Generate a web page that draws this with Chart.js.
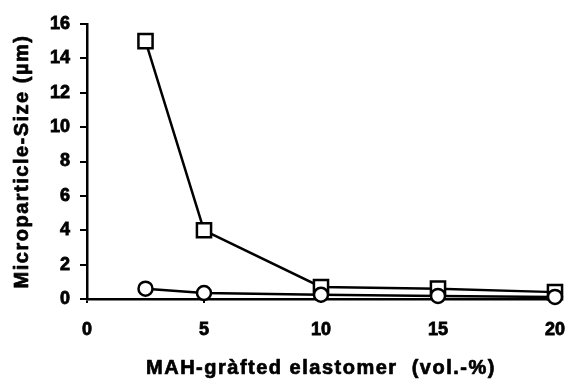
<!DOCTYPE html>
<html>
<head>
<meta charset="utf-8">
<script src="https://cdn.jsdelivr.net/npm/chart.js@4/dist/chart.umd.min.js"></script>
<style>
html,body{margin:0;padding:0;background:#fff;}
#wrap{width:581px;height:383px;position:relative;}
</style>
</head>
<body>
<div id="wrap"><canvas id="c" width="581" height="383"></canvas></div>
<script>
const xValues = [2.5, 5, 10, 15, 20];
const squareSizes = [15, 4, 0.7, 0.6, 0.4];
const circleSizes = [0.6, 0.35, 0.25, 0.18, 0.12];
const xTicks = [0, 5, 10, 15, 20];
const yTicks = [0, 2, 4, 6, 8, 10, 12, 14, 16];
const xTitle = 'MAH-gràfted elastomer  (vol.-%)';
const yTitle = 'Microparticle-Size (µm)';

const FONT = "'Liberation Sans', Arial, Helvetica, sans-serif";

function toPoints(ys){ return xValues.map((x,i)=>({x:x, y:ys[i]})); }

const spacingPlugin = {
  id: 'titleSpacing',
  beforeDraw(chart){
    ['x','y'].forEach(id=>{
      const s = chart.scales[id];
      if (!s._wrapped){
        const orig = s.drawTitle;
        s.drawTitle = function(){
          const ctx = this.ctx;
          ctx.save();
          ctx.letterSpacing = '1.5px';
          ctx.lineWidth = 0.7;
          ctx.strokeStyle = '#000';
          ctx.lineJoin = 'round';
          ctx.fillText = function(t, x, y, m){
            if (m === undefined) {
              CanvasRenderingContext2D.prototype.strokeText.call(this, t, x, y);
              CanvasRenderingContext2D.prototype.fillText.call(this, t, x, y);
            } else {
              CanvasRenderingContext2D.prototype.strokeText.call(this, t, x, y, m);
              CanvasRenderingContext2D.prototype.fillText.call(this, t, x, y, m);
            }
          };
          orig.apply(this, arguments);
          delete ctx.fillText;
          ctx.restore();
        };
        s._wrapped = true;
      }
    });
  }
};

new Chart(document.getElementById('c'), {
  type: 'line',
  data: {
    datasets: [
      {
        data: toPoints(circleSizes),
        borderColor: '#000',
        borderWidth: 2.5,
        pointStyle: 'circle',
        pointRadius: 7,
        pointBorderWidth: 2.5,
        pointBackgroundColor: '#fff',
        pointBorderColor: '#000',
        tension: 0,
        clip: false
      },
      {
        data: toPoints(squareSizes),
        borderColor: '#000',
        borderWidth: 2.5,
        pointStyle: 'rect',
        pointRadius: 10,
        pointBorderWidth: 2.5,
        pointBackgroundColor: '#fff',
        pointBorderColor: '#000',
        tension: 0,
        clip: false
      }
    ]
  },
  options: {
    responsive: false,
    animation: false,
    devicePixelRatio: 1,
    layout: { padding: { top: 24, right: 16, left: 0, bottom: 0 } },
    plugins: { legend: { display: false }, tooltip: { enabled: false } },
    scales: {
      x: {
        type: 'linear',
        min: 0, max: 20,
        afterBuildTicks(scale){ scale.ticks = xTicks.map(v=>({value:v})); },
        afterFit(scale){ scale.height = 84; },
        grid: { drawOnChartArea: false, drawTicks: true, tickLength: 4, color: '#000', lineWidth: 2 },
        border: { display: true, color: '#000', width: 2.5 },
        ticks: { color: '#000', font: { family: FONT, size: 18, weight: 'bold' }, padding: 16, maxRotation: 0, textStrokeColor: '#000', textStrokeWidth: 0.8 },
        title: { display: true, text: xTitle, color: '#000', font: { family: FONT, size: 20, weight: 'bold' }, padding: { top: 0, bottom: 3 } }
      },
      y: {
        type: 'linear',
        min: 0, max: 16,
        afterBuildTicks(scale){ scale.ticks = yTicks.map(v=>({value:v})); },
        afterFit(scale){ scale.width = 87; },
        grid: { drawOnChartArea: false, drawTicks: true, tickLength: 7, color: '#000', lineWidth: 2 },
        border: { display: true, color: '#000', width: 2.5 },
        ticks: { color: '#000', font: { family: FONT, size: 18, weight: 'bold' }, padding: 10, textStrokeColor: '#000', textStrokeWidth: 0.8 },
        title: { display: true, text: yTitle, color: '#000', font: { family: FONT, size: 20, weight: 'bold' }, padding: { top: 10, bottom: 0 } }
      }
    }
  },
  plugins: [spacingPlugin]
});
</script>
</body>
</html>
